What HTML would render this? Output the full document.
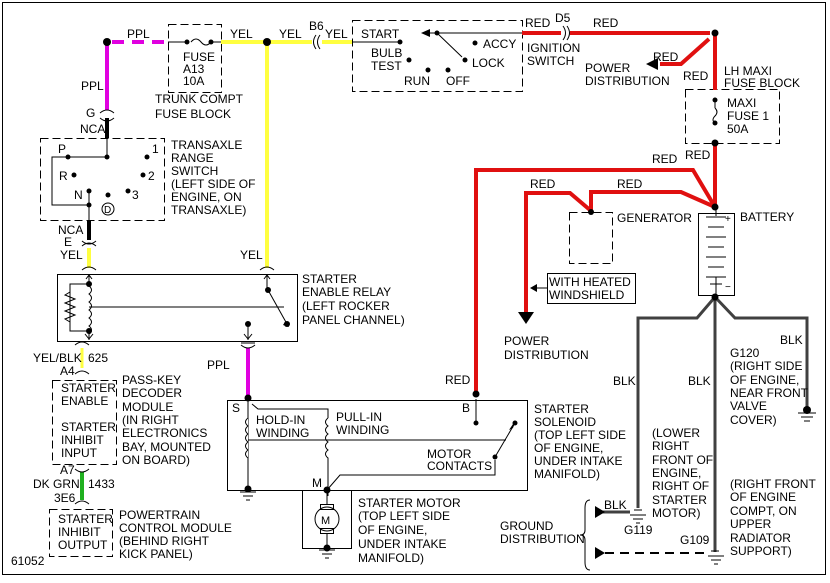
<!DOCTYPE html>
<html><head><style>
html,body{margin:0;padding:0;background:#fff}
svg{display:block}
text{font-family:"Liberation Sans",sans-serif;font-size:12px;fill:#000}
</style></head><body>
<svg width="830" height="583" viewBox="0 0 830 583" xmlns="http://www.w3.org/2000/svg">
<rect x="0" y="0" width="830" height="583" fill="#fff"/>
<rect x="2.5" y="2.5" width="823" height="572" fill="none" stroke="#000" stroke-width="1"/>
<g fill="none" stroke="#000" stroke-width="1">
<rect x="168.5" y="24.5" width="53" height="68" stroke-dasharray="8,4"/>
<rect x="352.5" y="20.5" width="170" height="71" stroke-dasharray="8,4"/>
<rect x="40.5" y="138.5" width="124" height="82" stroke-dasharray="8,4"/>
<rect x="685.5" y="89.5" width="94" height="54" stroke-dasharray="8,4"/>
<rect x="569.5" y="212.5" width="43" height="51" stroke-dasharray="8,4"/>
<rect x="52.5" y="380.5" width="64" height="84" stroke-dasharray="8,4"/>
<rect x="49.5" y="509.5" width="63" height="47" stroke-dasharray="8,4"/>
<rect x="57.5" y="274.5" width="240" height="67"/>
<rect x="227.5" y="400.5" width="300" height="90"/>
<rect x="302.5" y="490.5" width="49" height="58"/>
<rect x="698.5" y="213.5" width="36" height="82"/>
<rect x="547.5" y="273.5" width="88" height="30"/>
</g>
<g fill="none" stroke-width="4">
<line x1="112" y1="42" x2="168" y2="42" stroke="#e000e0" stroke-dasharray="12,8"/>
<line x1="107" y1="42" x2="107" y2="110" stroke="#e000e0"/>
<line x1="248" y1="348" x2="248" y2="398" stroke="#e000e0"/>
<line x1="221" y1="42" x2="312" y2="42" stroke="#ffff40"/>
<line x1="322" y1="42" x2="352" y2="42" stroke="#ffff40"/>
<line x1="267" y1="42" x2="267" y2="268" stroke="#ffff40"/>
<line x1="89" y1="248" x2="89" y2="268" stroke="#ffff40"/>
<line x1="82" y1="348" x2="82" y2="368" stroke="#ffff40" stroke-width="3"/>
<line x1="82" y1="472" x2="82" y2="500" stroke="#20b020"/>
<line x1="107" y1="118" x2="107" y2="138" stroke="#000"/>
<line x1="89" y1="220" x2="89" y2="240" stroke="#000"/>
<g stroke="#e01010">
<line x1="522" y1="33" x2="561" y2="33"/>
<line x1="570" y1="33" x2="710" y2="33"/>
<polyline points="709,39 681,64 660,64"/>
<line x1="715" y1="33" x2="715" y2="90"/>
<line x1="715" y1="143" x2="715" y2="207"/>
<polyline points="476,393 476,170 693,170 715,207"/>
<polyline points="526,312 526,193 570,193 590,210"/>
<polyline points="591,212 591,192 681,192 715,207"/>
</g>
<g stroke="#404040" stroke-width="3">
<polyline points="715,297 697,318 638,318 638,508"/>
<line x1="715" y1="297" x2="715" y2="552"/>
<polyline points="715,297 735,318 807,318 807,410"/>
<line x1="600" y1="512" x2="630" y2="512"/>
</g>
</g>
<line x1="605" y1="553" x2="708" y2="553" stroke="#000" stroke-width="2" stroke-dasharray="9,6"/>
<g fill="none" stroke="#000" stroke-width="1">
<line x1="168" y1="42" x2="187" y2="42"/>
<path d="M191,42 q5,-6 10,0 q5,6 10,0"/>
<line x1="211" y1="42" x2="221" y2="42"/>
<path d="M316,35 q-5,7 0,14 M320,35 q-5,7 0,14"/>
<path d="M563,26 q5,7 0,14 M567,26 q5,7 0,14"/>
<line x1="352" y1="42" x2="400" y2="42"/>
<line x1="430" y1="33" x2="522" y2="33"/>
<line x1="437" y1="33" x2="462" y2="57"/>
<line x1="107" y1="138" x2="107" y2="157"/>
<line x1="70" y1="157" x2="107" y2="157"/>
<polyline points="68,157 52,157 52,205 89,205"/>
<line x1="89" y1="192" x2="89" y2="220"/>
<path d="M100,113 q7,-6 14,0 M100,118 q7,6 14,0"/>
<path d="M82,241 q7,6 14,0 M82,246 q7,-6 14,0"/>
<path d="M82,270 q7,-6 14,0 M260,270 q7,-6 14,0"/>
<line x1="89" y1="276" x2="89" y2="284"/><path d="M86,279 l3,-4 l3,4"/>
<line x1="267" y1="276" x2="267" y2="290"/><path d="M264,279 l3,-4 l3,4"/>
<polyline points="89,284 70,284 70,331 89,331"/>
<path d="M70,292 l-5,3 l10,4 l-10,4 l10,4 l-10,4 l10,4 l-10,4 l5,3"/>
<path d="M89,286 q5,4 0,8 q5,4 0,8 q5,4 0,8 q5,4 0,8 q5,4 0,8 q5,4 0,8 l0,5"/>
<line x1="89" y1="307" x2="284" y2="307"/>
<line x1="268" y1="290" x2="287" y2="324"/>
<line x1="248" y1="324" x2="248" y2="340"/><path d="M244,334 l4,5 l4,-5"/>
<line x1="89" y1="331" x2="89" y2="340"/><path d="M85,334 l4,5 l4,-5"/>
<path d="M75,345 q7,-6 14,0 M241,345 q7,6 14,0 M241,343 l14,0" />
<path d="M75,374 q7,-6 14,0 M75,469 q7,6 14,0 M75,504 q7,-6 14,0"/>
<line x1="248" y1="398" x2="248" y2="490"/>
<polyline points="252,404 258,409 328,409 328,418"/>
<path d="M248,418 q-5,4 0,8 q-5,4 0,8 q-5,4 0,8 q-5,4 0,8 q-5,4 0,8" fill="#fff"/>
<path d="M328,418 q-5,4 0,8 q-5,4 0,8 q-5,4 0,8 q-5,4 0,8 q-5,4 0,8 l0,38"/>
<line x1="248" y1="440" x2="506" y2="440"/>
<line x1="476" y1="399" x2="476" y2="423"/>
<polyline points="327,490 340,475 495,475 495,460"/>
<line x1="495" y1="457" x2="515" y2="423"/>
<line x1="327" y1="490" x2="327" y2="504"/>
<rect x="320.5" y="504.5" width="13" height="5"/>
<circle cx="327" cy="519" r="12"/>
<rect x="320.5" y="528.5" width="13" height="5"/>
<line x1="327" y1="534" x2="327" y2="548"/>
<path d="M240,492 h16 M243,496 h10 M246,500 h4"/>
<path d="M319,550 h16 M322,554 h10 M325,558 h4"/>
<path d="M798,413 h18 M801,417 h12 M804,421 h6"/>
<path d="M630,515 h16 M633,519 h10 M636,523 h4 M634,510 h8"/>
<path d="M708,556 h16 M711,560 h10 M714,564 h4 M711,551 h8"/>
<line x1="715" y1="100" x2="715" y2="108"/>
<path d="M715,108 q4,4 0,8 q-4,4 0,7"/>
<path d="M716,207 v9 M706,217 h20 M708,227 h16 M706,237 h20 M708,247 h16 M706,257 h20 M708,267 h16 M706,277 h20 M716,284 v-7 M710,284 h12 M716,284 v13"/>
<line x1="537" y1="288" x2="547" y2="288"/>
<path d="M590,500 q-5,0 -5,8 v22 q0,5 -5,5 q5,0 5,5 v22 q0,8 5,8"/>
</g>
<g fill="#000">
<path d="M421,33 l9,-4 v8z"/>
<path d="M646,64 l12,-6 v12z"/>
<path d="M518,312 h16 l-8,12z"/>
<path d="M530,288 l7,-4 v8z"/>
<path d="M595,506 l10,6 l-10,6z"/>
<path d="M595,547 l10,6 l-10,6z"/>
<path d="M509,430 l6,-9 l-2,7z"/>
<path d="M285,322 l4,5 l-6,-2z"/>
</g>
<g fill="#000">
<circle cx="107" cy="42" r="4"/><circle cx="267" cy="42" r="4"/>
<circle cx="187" cy="42" r="2.5"/><circle cx="211" cy="42" r="2.5"/>
<circle cx="400" cy="42" r="2.5"/><circle cx="437" cy="33" r="2.5"/><circle cx="465" cy="60" r="2.5"/>
<circle cx="475" cy="43" r="2.5"/><circle cx="409" cy="60" r="2.5"/><circle cx="428" cy="70" r="2.5"/><circle cx="448" cy="70" r="2.5"/>
<circle cx="715" cy="33" r="3.5"/><circle cx="715" cy="100" r="2.5"/><circle cx="715" cy="123" r="2.5"/><circle cx="715" cy="143" r="3.5"/>
<circle cx="715" cy="207" r="3.5"/><circle cx="591" cy="212" r="3"/><circle cx="715" cy="297" r="3.5"/>
<circle cx="107" cy="157" r="2.5"/><circle cx="68" cy="157" r="2.5"/><circle cx="147" cy="157" r="2.5"/>
<circle cx="74" cy="175" r="2.5"/><circle cx="143" cy="175" r="2.5"/><circle cx="89" cy="191" r="2.5"/><circle cx="89" cy="205" r="2.5"/>
<circle cx="108" cy="195" r="2.5"/><circle cx="128" cy="191" r="2.5"/>
<circle cx="89" cy="284" r="3"/><circle cx="89" cy="331" r="3"/><circle cx="268" cy="290" r="3"/><circle cx="287" cy="324" r="3"/><circle cx="248" cy="324" r="3"/>
<circle cx="248" cy="398" r="3.5"/><circle cx="476" cy="394" r="3.5"/><circle cx="476" cy="423" r="2.5"/>
<circle cx="495" cy="457" r="2.5"/><circle cx="515" cy="423" r="2.5"/>
<circle cx="248" cy="489" r="3.5"/><circle cx="327" cy="490" r="3.5"/><circle cx="327" cy="548" r="3.5"/><circle cx="807" cy="410" r="4"/>
</g>
<circle cx="108" cy="209" r="6" fill="none" stroke="#000"/>
<g>
<text x="127" y="38">PPL</text><text x="81" y="90">PPL</text>
<text x="183" y="61">FUSE</text><text x="183" y="73">A13</text><text x="183" y="85">10A</text>
<text x="155" y="103">TRUNK COMPT</text><text x="155" y="118">FUSE BLOCK</text>
<text x="230" y="38">YEL</text><text x="279" y="38">YEL</text><text x="309" y="30">B6</text><text x="325" y="38">YEL</text>
<text x="361" y="38">START</text><text x="371" y="57">BULB</text><text x="371" y="70">TEST</text>
<text x="404" y="85">RUN</text><text x="446" y="85">OFF</text><text x="483" y="48">ACCY</text><text x="472" y="67">LOCK</text>
<text x="525" y="27">RED</text><text x="555" y="22">D5</text><text x="593" y="27">RED</text>
<text x="527" y="52">IGNITION</text><text x="527" y="65">SWITCH</text>
<text x="653" y="61">RED</text><text x="585" y="72">POWER</text><text x="585" y="85">DISTRIBUTION</text>
<text x="683" y="80">RED</text><text x="724" y="75">LH MAXI</text><text x="724" y="87">FUSE BLOCK</text>
<text x="727" y="107">MAXI</text><text x="727" y="120">FUSE 1</text><text x="727" y="133">50A</text>
<text x="685" y="159">RED</text><text x="652" y="163">RED</text>
<text x="530" y="188">RED</text><text x="617" y="188">RED</text>
<text x="617" y="222">GENERATOR</text><text x="740" y="221">BATTERY</text>
<text x="725" y="222" style="font-size:10px">+</text><text x="725" y="290" style="font-size:10px">−</text>
<text x="549" y="286">WITH HEATED</text><text x="549" y="299">WINDSHIELD</text>
<text x="504" y="345">POWER</text><text x="504" y="359">DISTRIBUTION</text>
<text x="86" y="117">G</text><text x="80" y="133">NCA</text>
<text x="171" y="149">TRANSAXLE</text><text x="171" y="162">RANGE</text><text x="171" y="175">SWITCH</text>
<text x="171" y="188">(LEFT SIDE OF</text><text x="171" y="201">ENGINE, ON</text><text x="171" y="214">TRANSAXLE)</text>
<text x="58" y="153">P</text><text x="152" y="153">1</text><text x="59" y="180">R</text><text x="148" y="180">2</text>
<text x="74" y="199">N</text><text x="132" y="199">3</text><text x="104" y="213" style="font-size:10px">D</text>
<text x="58" y="234">NCA</text><text x="64" y="246">E</text><text x="60" y="259">YEL</text><text x="240" y="259">YEL</text>
<text x="302" y="283">STARTER</text><text x="302" y="296">ENABLE RELAY</text><text x="302" y="310">(LEFT ROCKER</text><text x="302" y="324">PANEL CHANNEL)</text>
<text x="33" y="362">YEL/BLK</text><text x="88" y="362">625</text><text x="60" y="375">A4</text>
<text x="61" y="392">STARTER</text><text x="61" y="405">ENABLE</text><text x="61" y="431">STARTER</text><text x="61" y="444">INHIBIT</text><text x="61" y="457">INPUT</text>
<text x="122" y="384">PASS-KEY</text><text x="122" y="397">DECODER</text><text x="122" y="411">MODULE</text><text x="122" y="424">(IN RIGHT</text><text x="122" y="437">ELECTRONICS</text><text x="122" y="451">BAY, MOUNTED</text><text x="122" y="464">ON BOARD)</text>
<text x="207" y="369">PPL</text>
<text x="60" y="474">A7</text><text x="33" y="488">DK GRN</text><text x="88" y="488">1433</text><text x="54" y="502">3E6</text>
<text x="58" y="523">STARTER</text><text x="58" y="536">INHIBIT</text><text x="58" y="549">OUTPUT</text>
<text x="119" y="519">POWERTRAIN</text><text x="119" y="532">CONTROL MODULE</text><text x="119" y="545">(BEHIND RIGHT</text><text x="119" y="558">KICK PANEL)</text>
<text x="11" y="565">61052</text>
<text x="445" y="384">RED</text><text x="232" y="412">S</text><text x="462" y="412">B</text>
<text x="256" y="424">HOLD-IN</text><text x="256" y="437">WINDING</text><text x="336" y="421">PULL-IN</text><text x="336" y="434">WINDING</text>
<text x="427" y="458">MOTOR</text><text x="427" y="470">CONTACTS</text><text x="312" y="487">M</text>
<text x="534" y="413">STARTER</text><text x="534" y="426">SOLENOID</text><text x="534" y="439">(TOP LEFT SIDE</text><text x="534" y="452">OF ENGINE,</text><text x="534" y="465">UNDER INTAKE</text><text x="534" y="478">MANIFOLD)</text>
<text x="358" y="507">STARTER MOTOR</text><text x="358" y="520">(TOP LEFT SIDE</text><text x="358" y="534">OF ENGINE,</text><text x="358" y="548">UNDER INTAKE</text><text x="358" y="562">MANIFOLD)</text>
<text x="321" y="524" style="font-size:11px">M</text>
<text x="613" y="385">BLK</text><text x="688" y="385">BLK</text><text x="780" y="344">BLK</text>
<text x="730" y="357">G120</text><text x="730" y="370">(RIGHT SIDE</text><text x="730" y="384">OF ENGINE,</text><text x="730" y="397">NEAR FRONT</text><text x="730" y="410">VALVE</text><text x="730" y="424">COVER)</text>
<text x="652" y="437">(LOWER</text><text x="652" y="450">RIGHT</text><text x="652" y="464">FRONT OF</text><text x="652" y="477">ENGINE,</text><text x="652" y="490">RIGHT OF</text><text x="652" y="504">STARTER</text><text x="652" y="517">MOTOR)</text>
<text x="604" y="509">BLK</text><text x="624" y="534">G119</text><text x="680" y="544">G109</text>
<text x="730" y="488">(RIGHT FRONT</text><text x="730" y="501">OF ENGINE</text><text x="730" y="515">COMPT, ON</text><text x="730" y="528">UPPER</text><text x="730" y="542">RADIATOR</text><text x="730" y="555">SUPPORT)</text>
<text x="500" y="530">GROUND</text><text x="500" y="543">DISTRIBUTION</text>
</g>
</svg>
</body></html>
